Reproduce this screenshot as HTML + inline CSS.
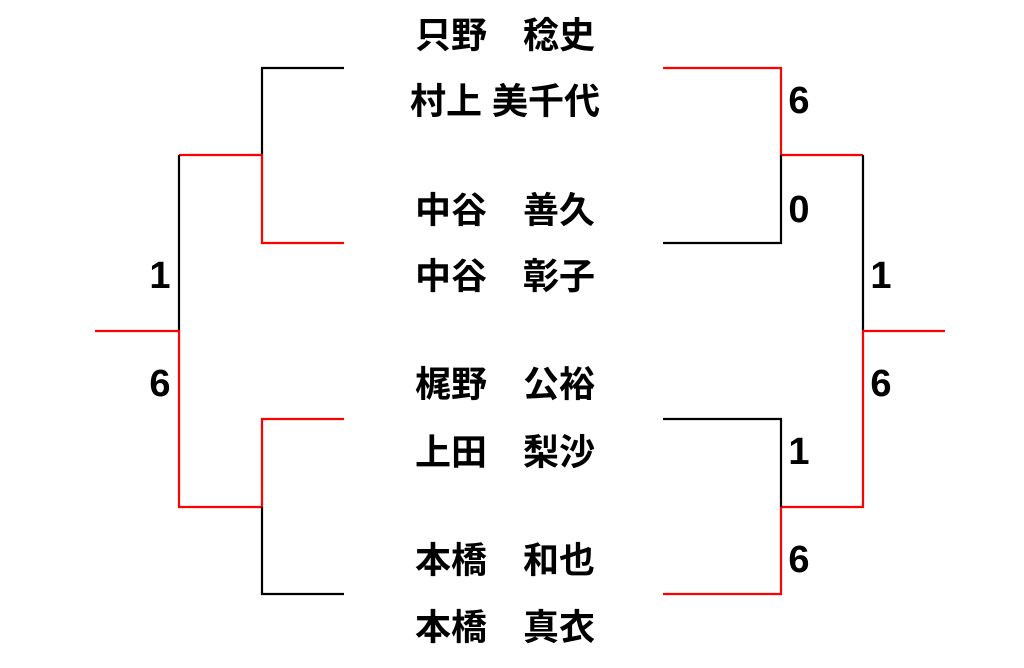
<!DOCTYPE html>
<html><head><meta charset="utf-8"><style>
body{margin:0;background:#fff;width:1024px;height:663px;overflow:hidden}
svg text{font-family:"Liberation Sans","Noto Sans CJK JP",sans-serif;font-weight:bold;fill:#000}
</style></head><body>
<svg width="1024" height="663" viewBox="0 0 1024 663">
<g fill="none" stroke-width="2.2">
<polyline stroke="#000" points="344,68 262,68 262,155"/>
<polyline stroke="#f00" points="179,155 262,155 262,243 344,243"/>
<polyline stroke="#000" points="179,331 179,155"/>
<polyline stroke="#f00" points="95,331 179,331 179,507 262,507 262,419 344,419"/>
<polyline stroke="#000" points="262,507 262,594 344,594"/>
<polyline stroke="#f00" points="663,68 781,68 781,155 863,155"/>
<polyline stroke="#000" points="781,155 781,243 663,243"/>
<polyline stroke="#000" points="863,155 863,331"/>
<polyline stroke="#f00" points="945,331 863,331 863,507 781,507 781,594 663,594"/>
<polyline stroke="#000" points="663,419 781,419 781,507"/>
</g>
<g text-anchor="middle" dominant-baseline="central" font-size="36">
<text x="505" y="35">只野　稔史</text>
<text x="505" y="101">村上 美千代</text>
<text x="505" y="210">中谷　善久</text>
<text x="505" y="276">中谷　彰子</text>
<text x="505" y="384">梶野　公裕</text>
<text x="505" y="452">上田　梨沙</text>
<text x="505" y="560">本橋　和也</text>
<text x="505" y="627">本橋　真衣</text>
</g>
<g text-anchor="middle" dominant-baseline="central" font-size="38">
<text x="160" y="276">1</text>
<text x="160" y="384">6</text>
<text x="799" y="101">6</text>
<text x="799" y="210">0</text>
<text x="881" y="276">1</text>
<text x="881" y="384">6</text>
<text x="799" y="452">1</text>
<text x="799" y="560">6</text>
</g>
</svg>
</body></html>
